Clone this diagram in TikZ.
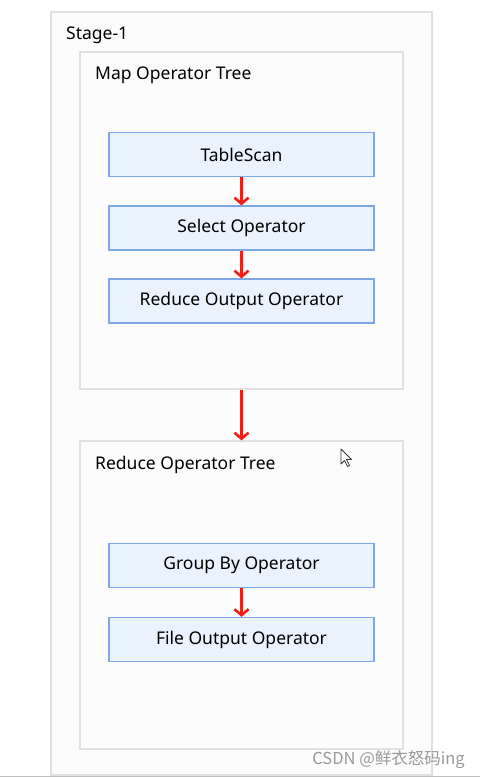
\documentclass[tikz,border=0pt]{standalone}
\usepackage{fontspec}
\setmainfont{Noto Sans}
\newfontfamily\cjkfont{Noto Sans CJK SC}
\usetikzlibrary{arrows.meta,positioning}
\definecolor{opfill}{RGB}{234,242,253}
\definecolor{opline}{RGB}{126,166,226}
\definecolor{treefill}{RGB}{252,252,252}
\definecolor{treeline}{RGB}{224,224,224}
\definecolor{flow}{RGB}{240,30,20}

\tikzset{
  treebox/.style={draw=treeline, fill=treefill, line width=1.2pt, minimum width=323pt},
  opbox/.style={draw=opline, fill=opfill, line width=1.2pt, minimum width=265pt,
    minimum height=44pt, font=\fontsize{17.5}{20}\selectfont},
  flowarrow/.style={flow, line width=2.6pt, -{Straight Barb[length=6pt,width=14pt]}},
  title/.style={anchor=west, inner sep=0pt, font=\fontsize{17.5}{20}\selectfont}
}

\begin{document}
\begin{tikzpicture}[x=1pt, y=-1pt]
  \useasboundingbox (0,0) rectangle (480,777);
  % stage frame
  \node[draw=treeline, fill=treefill, line width=1.2pt, minimum width=381pt,
    minimum height=763pt] (stage) at (241.5,393.5) {};
  \fill[black!25] (0,775.5) rectangle (480,777);
  \node[title] (stagelbl) at (66,35.5) {Stage-1};
  % operator trees
  \node[treebox, minimum height=337pt] (maptree) at (241.5,220.5) {};
  \node[treebox, minimum height=308pt] (redtree) at (241.5,595) {};
  \node[title] (maplbl) at (95,75.5) {Map Operator Tree};
  \node[title] (redlbl) at (95,464.5) {Reduce Operator Tree};
  % map side
  \node[opbox] (scan) at (241.5,154.5) {TableScan};
  \node[opbox] (select) at (241.5,228) {Select Operator};
  \node[opbox] (rsink) at (241.5,301) {Reduce Output Operator};
  % reduce side
  \node[opbox] (groupby) at (241.5,565.5) {Group By Operator};
  \node[opbox] (fsink) at (241.5,639.5) {File Output Operator};
  % flow
  \foreach \a/\b in {scan/select, select/rsink, maptree/redtree, groupby/fsink}
    \draw[flowarrow] (\a.south) -- (\b.north);
  % mouse pointer
  \draw[black!80, fill=white, line width=0.8pt, line join=round]
    (341,449) -- (341,464) -- (344.5,460.5) -- (347.5,466.5) -- (349.5,465.5)
    -- (346.5,459.5) -- (351.5,459.5) -- cycle;
  % watermark
  \node[anchor=east, inner sep=0pt, text=black!40, font=\cjkfont\fontsize{16.5}{18}\selectfont]
    (mark) at (465,760) {CSDN @鲜衣怒码ing};
\end{tikzpicture}
\end{document}
